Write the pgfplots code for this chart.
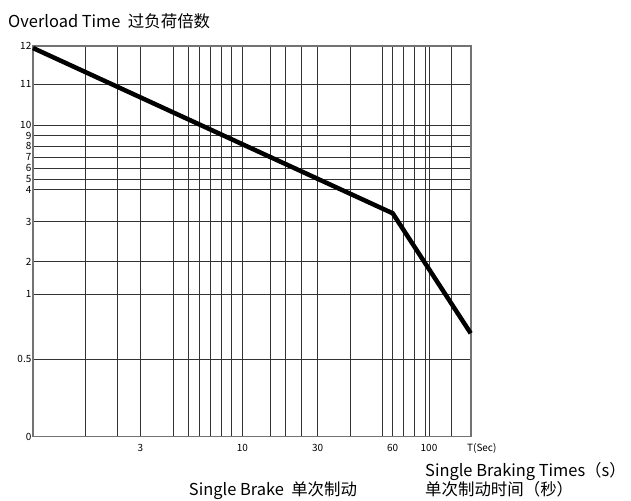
\documentclass[border=0pt]{standalone}
\usepackage{pgfplots}
\pgfplotsset{compat=1.18}
\usepackage{fontspec}
\setmainfont{Noto Sans CJK SC}
\begin{document}
\begin{tikzpicture}
\path[use as bounding box] (0,0) rectangle (631bp,501bp);
\begin{axis}[at={(33bp,64.3bp)}, anchor=south west, scale only axis,
  width=438bp, height=390.7bp,
  xmin=33, xmax=471, ymin=46, ymax=436.7, y dir=reverse,
  xtick={85.3,117.7,140.3,173,188.7,199.3,210.3,221,231.7,242.3,270,285.7,301.7,317.7,350,382,392.7,403.7,414.3,425,429,451},
  xticklabels={,,3,,,,,,,10,,,,30,,,60,,,,100,},
  ytick={46,84,125,135.7,146.3,157.3,168,179,189.7,221.7,261.7,294.3,359.3,436.7},
  yticklabels={12,11,10,9,8,7,6,5,4,3,2,1,0.5,0},
  grid=major, major grid style={black!80, line width=0.9bp},
  axis line style={black!55, line width=1.1bp},
  major tick length=0pt,
  tick label style={font=\fontsize{10}{11}\selectfont, inner sep=0pt},
  xticklabel style={anchor=center, yshift=-11.6bp},
  yticklabel style={anchor=east, xshift=-1.5bp},
  /pgf/number format/assume math mode=true,
  clip=false]
\addplot[black, line width=4.5bp] coordinates {(33,48) (392.7,213.3) (470.7,333.3)};
\end{axis}
\node[anchor=west, inner sep=0pt, font=\fontsize{10}{11}\selectfont] at (467bp,52.7bp) {T(Sec)};
\node[anchor=base west, inner sep=0pt, font=\fontsize{16.5}{18}\selectfont] at (8bp,473bp) {Overload Time\ \ 过负荷倍数};
\node[anchor=base, inner sep=0pt, font=\fontsize{16.5}{18}\selectfont] at (273bp,5.5bp) {Single Brake\ \ 单次制动};
\node[anchor=base west, inner sep=0pt, font=\fontsize{16.5}{18}\selectfont] at (425bp,25bp) {Single Braking Times（s）};
\node[anchor=base west, inner sep=0pt, font=\fontsize{16.5}{18}\selectfont] at (425bp,6bp) {单次制动时间（秒）};
\end{tikzpicture}
\end{document}
